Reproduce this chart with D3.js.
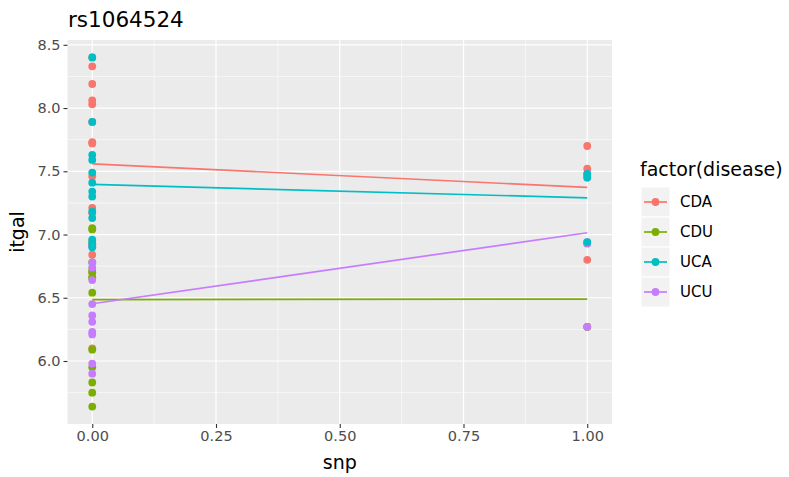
<!DOCTYPE html>
<html>
<head>
<meta charset="utf-8">
<script src="https://cdn.jsdelivr.net/npm/d3@7"></script>
<style>
  body { margin: 0; background: #ffffff; }
  svg { display: block; }
  text { font-family: "DejaVu Sans", sans-serif; }
</style>
</head>
<body>
<svg id="chart" width="789" height="477"></svg>
<script>
// Disease groups, in legend order, with their hue colours
const groups = ["CDA", "CDU", "UCA", "UCU"];
const groupColors = ["#F8766D", "#7CAE00", "#00BFC4", "#C77CFF"];
// Order in which the point layers are painted
const drawOrder = ["CDA", "CDU", "UCU", "UCA"];

// itgal measurements by group and genotype (snp = 0 / snp = 1)
const cdaSnp0 = [8.33, 8.19, 8.06, 8.03, 7.73, 7.72, 7.46, 7.21, 7.17, 6.84, 6.70, 6.10, 8.40, 7.89];
const cdaSnp1 = [7.70, 7.52, 7.47, 6.80];
const cduSnp0 = [7.05, 7.04, 6.92, 6.95, 6.78, 6.72, 6.70, 6.66, 6.66, 6.54, 6.09, 5.95, 5.83, 5.75, 5.64];
const cduSnp1 = [6.93, 6.27, 6.27];
const ucaSnp0 = [8.40, 7.89, 7.63, 7.59, 7.49, 7.41, 7.34, 7.30, 7.18, 7.13, 6.96, 6.93, 6.90];
const ucaSnp1 = [7.48, 7.45, 6.94];
const ucuSnp0 = [6.78, 6.74, 6.64, 6.45, 6.36, 6.31, 6.23, 6.21, 5.98, 5.90, 6.92, 6.91];
const ucuSnp1 = [6.27, 7.45, 6.94, 7.48, 6.93];

const xTicks = [0, 0.25, 0.5, 0.75, 1];
const xMinor = [0.125, 0.375, 0.625, 0.875];
const yTicks = [6.0, 6.5, 7.0, 7.5, 8.0, 8.5];
const yMinor = [5.75, 6.25, 6.75, 7.25, 7.75, 8.25];

const chartTitle = "rs1064524";
const xTitle = "snp";
const yTitle = "itgal";
const legendTitle = "factor(disease)";

const byGroup = {
  CDA: [cdaSnp0, cdaSnp1],
  CDU: [cduSnp0, cduSnp1],
  UCA: [ucaSnp0, ucaSnp1],
  UCU: [ucuSnp0, ucuSnp1]
};
const colorOf = d3.scaleOrdinal().domain(groups).range(groupColors);

const points = [];
groups.forEach(g => {
  byGroup[g].forEach((vals, snp) => vals.forEach(v => points.push({ group: g, snp: snp, itgal: v })));
});

// Panel geometry
const panel = { left: 67.5, right: 612, top: 40, bottom: 424 };
const svg = d3.select("#chart");

// Scales with 5% expansion on each side
function expand(ext) { const p = (ext[1] - ext[0]) * 0.05; return [ext[0] - p, ext[1] + p]; }
const x = d3.scaleLinear().domain(expand(d3.extent(points, d => d.snp))).range([panel.left, panel.right]);
const y = d3.scaleLinear().domain(expand(d3.extent(points, d => d.itgal))).range([panel.bottom, panel.top]);

// Panel background and grid
svg.append("rect")
  .attr("x", panel.left).attr("y", panel.top)
  .attr("width", panel.right - panel.left).attr("height", panel.bottom - panel.top)
  .attr("fill", "#EBEBEB");

const grid = svg.append("g");
grid.selectAll(".ymin").data(yMinor).enter().append("line")
  .attr("x1", panel.left).attr("x2", panel.right)
  .attr("y1", d => y(d)).attr("y2", d => y(d))
  .attr("stroke", "#ffffff").attr("stroke-width", 0.6);
grid.selectAll(".xmin").data(xMinor).enter().append("line")
  .attr("y1", panel.top).attr("y2", panel.bottom)
  .attr("x1", d => x(d)).attr("x2", d => x(d))
  .attr("stroke", "#ffffff").attr("stroke-width", 0.6);
grid.selectAll(".ymaj").data(yTicks).enter().append("line")
  .attr("x1", panel.left).attr("x2", panel.right)
  .attr("y1", d => y(d)).attr("y2", d => y(d))
  .attr("stroke", "#ffffff").attr("stroke-width", 1.2);
grid.selectAll(".xmaj").data(xTicks).enter().append("line")
  .attr("y1", panel.top).attr("y2", panel.bottom)
  .attr("x1", d => x(d)).attr("x2", d => x(d))
  .attr("stroke", "#ffffff").attr("stroke-width", 1.2);

// Axes
const xAxis = svg.append("g")
  .attr("transform", `translate(0,${panel.bottom})`)
  .call(d3.axisBottom(x).tickValues(xTicks).tickFormat(d3.format(".2f")).tickSize(4).tickPadding(3));
const yAxis = svg.append("g")
  .attr("transform", `translate(${panel.left},0)`)
  .call(d3.axisLeft(y).tickValues(yTicks).tickFormat(d3.format(".1f")).tickSize(4).tickPadding(3));
[xAxis, yAxis].forEach(a => {
  a.select(".domain").remove();
  a.selectAll(".tick line").attr("stroke", "#333333").attr("stroke-width", 1.1);
  a.selectAll(".tick text").attr("fill", "#4D4D4D").style("font-size", "14.5px")
    .style("font-family", "'DejaVu Sans', sans-serif");
});

// Points
const pts = svg.append("g");
drawOrder.forEach(g => {
  pts.selectAll(null).data(points.filter(p => p.group === g)).enter().append("circle")
    .attr("cx", d => x(d.snp)).attr("cy", d => y(d.itgal))
    .attr("r", 3.9).attr("fill", colorOf(g));
});

// Least-squares fit per group, drawn across the group's snp range
function fit(rows) {
  const mx = d3.mean(rows, d => d.snp), my = d3.mean(rows, d => d.itgal);
  let sxy = 0, sxx = 0;
  rows.forEach(d => { sxy += (d.snp - mx) * (d.itgal - my); sxx += (d.snp - mx) ** 2; });
  const b = sxx ? sxy / sxx : 0;
  return { a: my - b * mx, b: b, lo: d3.min(rows, d => d.snp), hi: d3.max(rows, d => d.snp) };
}
const fits = svg.append("g");
groups.forEach(g => {
  const f = fit(points.filter(p => p.group === g));
  fits.append("line")
    .attr("x1", x(f.lo)).attr("y1", y(f.a + f.b * f.lo))
    .attr("x2", x(f.hi)).attr("y2", y(f.a + f.b * f.hi))
    .attr("stroke", colorOf(g)).attr("stroke-width", 1.7);
});

// Titles
svg.append("text").attr("x", 68).attr("y", 27).text(chartTitle)
  .attr("fill", "#000").style("font-size", "21.5px");
svg.append("text").attr("x", (panel.left + panel.right) / 2).attr("y", 469)
  .attr("text-anchor", "middle").text(xTitle).style("font-size", "19px");
svg.append("text").attr("transform", `translate(24,${(panel.top + panel.bottom) / 2}) rotate(-90)`)
  .attr("text-anchor", "middle").text(yTitle).style("font-size", "19px");

// Legend
const legend = svg.append("g").attr("transform", "translate(641,187)");
legend.append("text").attr("x", -1).attr("y", -11).text(legendTitle).style("font-size", "19px");
const keyH = 30, keyW = 29;
const item = legend.selectAll(".item").data(groups).enter().append("g")
  .attr("transform", (d, i) => `translate(0,${i * keyH})`);
item.append("rect").attr("width", keyW).attr("height", keyH)
  .attr("fill", "#F2F2F2").attr("stroke", "#ffffff").attr("stroke-width", 1);
item.append("line").attr("x1", 3).attr("x2", keyW - 3)
  .attr("y1", keyH / 2).attr("y2", keyH / 2)
  .attr("stroke", d => colorOf(d)).attr("stroke-width", 1.7);
item.append("circle").attr("cx", keyW / 2).attr("cy", keyH / 2).attr("r", 3.9)
  .attr("fill", d => colorOf(d));
item.append("text").attr("x", 39).attr("y", keyH / 2).attr("dy", "0.36em")
  .text(d => d).style("font-size", "15px").attr("fill", "#000");
</script>
</body>
</html>
